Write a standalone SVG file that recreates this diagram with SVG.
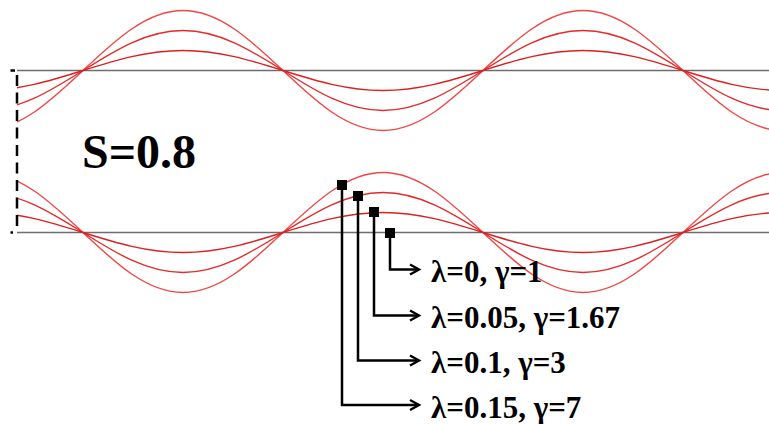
<svg xmlns="http://www.w3.org/2000/svg" xmlns:xlink="http://www.w3.org/1999/xlink" width="769" height="424" viewBox="0 0 769 424">
<style>
.base{stroke:#6e6e6e;stroke-width:1.5;fill:none}
.w1{stroke:#d92222;stroke-width:1.4;fill:none}
.w2{stroke:#e42a2a;stroke-width:1.4;fill:none}
.w3{stroke:#f24545;stroke-width:1.4;fill:none}
.conn{stroke:#000;stroke-width:2.5;fill:none}
text.lbl{font-family:'Liberation Serif','Times New Roman',serif;font-weight:bold;font-size:31px;fill:#000}
text.title{font-family:'Liberation Serif','Times New Roman',serif;font-weight:bold;font-size:48px;fill:#000}
</style>
<defs>
<clipPath id="clip"><rect x="17" y="0" width="752" height="424"/></clipPath>
<marker id="arr" markerUnits="userSpaceOnUse" markerWidth="14" markerHeight="14" refX="11" refY="7" orient="auto">
<path d="M2,2 L11,7 L2,12" fill="none" stroke="#000" stroke-width="2.4"/>
</marker>
<path id="a20" d="M-17,90.5 c36.19,0 67.39,-9.754 100,-20 s63.81,-20 100,-20 s67.39,9.754 100,20 s63.81,20 100,20 s67.39,-9.754 100,-20 s63.81,-20 100,-20 s67.39,9.754 100,20 s63.81,20 100,20"/>
<path id="a40" d="M-17,110.5 c36.19,0 67.39,-19.51 100,-40 s63.81,-40 100,-40 s67.39,19.51 100,40 s63.81,40 100,40 s67.39,-19.51 100,-40 s63.81,-40 100,-40 s67.39,19.51 100,40 s63.81,40 100,40"/>
<path id="a60" d="M-17,130.5 c36.19,0 67.39,-29.26 100,-60 s63.81,-60 100,-60 s67.39,29.26 100,60 s63.81,60 100,60 s67.39,-29.26 100,-60 s63.81,-60 100,-60 s67.39,29.26 100,60 s63.81,60 100,60"/>
</defs>
<rect width="769" height="424" fill="#fff"/>
<g id="baselines">
<line class="base" x1="17" y1="70.5" x2="769" y2="70.5"/>
<line class="base" x1="17" y1="232.5" x2="769" y2="232.5"/>
</g>
<g id="waves" clip-path="url(#clip)">
<g id="top-wave">
<use xlink:href="#a60" href="#a60" class="w3"/>
<use xlink:href="#a40" href="#a40" class="w2"/>
<use xlink:href="#a20" href="#a20" class="w1"/>
</g>
<g id="bottom-wave" transform="translate(0,303) scale(1,-1)">
<use xlink:href="#a60" href="#a60" class="w3"/>
<use xlink:href="#a40" href="#a40" class="w2"/>
<use xlink:href="#a20" href="#a20" class="w1"/>
</g>
</g>
<g id="bracket" stroke="#000" stroke-width="2.5" fill="none">
<line x1="10.5" y1="70.5" x2="15" y2="70.5"/>
<line x1="17" y1="75" x2="17" y2="231" stroke-dasharray="11 6.5"/>
<line x1="10.5" y1="232.5" x2="13" y2="232.5"/>
</g>
<g id="label-s"><text class="title" x="82" y="168">S=0.8</text></g>
<g id="connectors">
<path class="conn" d="M390,233 V269.5 H419" marker-end="url(#arr)"/>
<path class="conn" d="M374,212 V315.5 H419" marker-end="url(#arr)"/>
<path class="conn" d="M358,196 V360.5 H419" marker-end="url(#arr)"/>
<path class="conn" d="M342,185 V405 H419" marker-end="url(#arr)"/>
</g>
<g id="markers" fill="#000">
<rect x="385" y="228" width="10" height="10"/>
<rect x="369" y="207" width="10" height="10"/>
<rect x="353" y="191" width="10" height="10"/>
<rect x="337" y="180" width="10" height="10"/>
</g>
<g id="node-l1"><text class="lbl" x="431" y="282">λ=0, γ=1</text></g>
<g id="node-l2"><text class="lbl" x="431" y="328">λ=0.05, γ=1.67</text></g>
<g id="node-l3"><text class="lbl" x="431" y="373">λ=0.1, γ=3</text></g>
<g id="node-l4"><text class="lbl" x="431" y="417.5">λ=0.15, γ=7</text></g>
</svg>
